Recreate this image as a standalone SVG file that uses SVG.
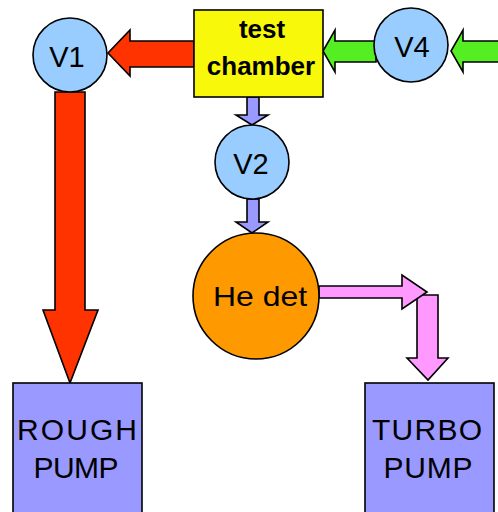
<svg xmlns="http://www.w3.org/2000/svg" width="498" height="512" viewBox="0 0 498 512">
<style>
.o{stroke:#000;stroke-width:1.6;stroke-linejoin:miter}
.valve{fill:#99ccff}
.pump{fill:#9999ff}
.t{font-family:"Liberation Sans",Arial,sans-serif;fill:#000;text-anchor:middle}
.red{fill:#ff3300}
.green{fill:#55ee22}
.blue{fill:#9999ff}
.pink{fill:#ff99ff}
</style>
<rect width="498" height="512" fill="#fff"/>
<g id="connectors">
<polygon class="o red" points="194,41 130,41 130,30 108,53 130,76 130,67 194,67"/>
<polygon class="o red" points="55,92 85,92 85,310 98,310 70,383 43,310 55,310"/>
<polygon class="o green" points="376,41 335,41 335,30 323,51 335,72 335,62 376,62"/>
<polygon class="o green" points="499,41 463,41 463,30 451,51 463,72 463,62 499,62"/>
<polygon class="o blue" points="247,97 259,97 259,115 268,115 252,125 236,115 247,115"/>
<polygon class="o blue" points="247,199 259,199 259,222 268,222 252,233 236,222 247,222"/>
<polygon class="o pink" points="417,295 438,295 438,358 448,358 428,380 407,358 417,358"/>
<polygon class="o pink" points="319,286 402,286 402,275 427,292 402,309 402,298 319,298"/>
</g>
<g id="test-chamber">
<rect class="o" x="194" y="10" width="129" height="87" fill="#f8f80a"/>
<text class="t" x="262" y="38" font-size="26" font-weight="bold">test</text>
<text class="t" x="261" y="75" font-size="26" font-weight="bold">chamber</text>
</g>
<g id="V1">
<circle class="o valve" cx="70" cy="55" r="37"/>
<text class="t" x="67" y="67" font-size="29">V1</text>
</g>
<g id="V4">
<circle class="o valve" cx="411" cy="45" r="37"/>
<text class="t" x="412" y="57" font-size="29">V4</text>
</g>
<g id="V2">
<circle class="o valve" cx="252" cy="162" r="37"/>
<text class="t" x="251" y="174" font-size="29">V2</text>
</g>
<g id="he-det">
<circle class="o" cx="256" cy="296" r="63" fill="#ff9900"/>
<text class="t" x="260" y="306" font-size="28" textLength="94" lengthAdjust="spacingAndGlyphs">He det</text>
</g>
<g id="rough-pump">
<rect class="o pump" x="13" y="383" width="129" height="140"/>
<text class="t" x="77" y="440" font-size="30" textLength="120" lengthAdjust="spacing">ROUGH</text>
<text class="t" x="76" y="478" font-size="30" textLength="85" lengthAdjust="spacing">PUMP</text>
</g>
<g id="turbo-pump">
<rect class="o pump" x="365" y="383" width="129" height="140"/>
<text class="t" x="427" y="440" font-size="30" textLength="110" lengthAdjust="spacing">TURBO</text>
<text class="t" x="428" y="478" font-size="30" textLength="89" lengthAdjust="spacing">PUMP</text>
</g>
</svg>
